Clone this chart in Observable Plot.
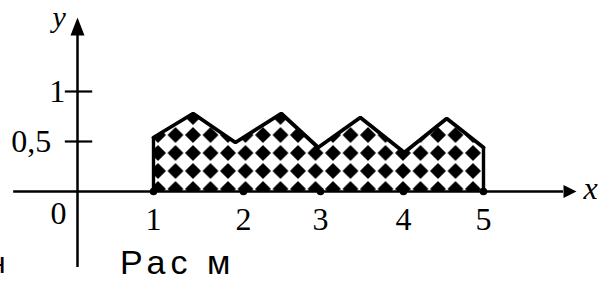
<!DOCTYPE html>
<html><head><meta charset="utf-8">
<script src="https://cdn.jsdelivr.net/npm/d3@7"></script>
<script src="https://cdn.jsdelivr.net/npm/@observablehq/plot@0.6"></script>
<style>body{margin:0;background:#fff} svg{display:block}</style>
</head><body><div id="chart"></div>
<script>
// ---- data ----
const xTicks = [1, 2, 3, 4, 5];
const xTickLabels = ["1", "2", "3", "4", "5"];
const yTicks = [1, 0.5];
const yTickLabels = ["1", "0,5"];
const boundaryX = [1, 1.44, 1.91, 2.49, 2.97, 3.48, 4.01, 4.54, 5];
const boundaryY = [0.54, 0.78, 0.49, 0.78, 0.44, 0.74, 0.39, 0.73, 0.44];
const xAxisExtent = [-0.84, 6.0];
const yAxisExtent = [-0.76, 1.56];
const originLabel = "0";
const xName = "x";
const yName = "y";
const caption = "Рас м";
const cutLetter = "н";

// ---- derived tables ----
const boundary = boundaryX.map((x, i) => ({x, y: boundaryY[i]}));
const edges = [boundary[0], boundary[boundary.length - 1]];
const ticksX = xTicks.map((x, i) => ({x, label: xTickLabels[i]}));
const ticksY = yTicks.map((y, i) => ({y, label: yTickLabels[i]}));

const serif = "'Liberation Serif', 'Times New Roman', serif";
const sans = "'Liberation Sans', Arial, sans-serif";

function arrowSymbol(len, half) {
  return {draw(ctx) { ctx.moveTo(0, -len); ctx.lineTo(half, 0); ctx.lineTo(-half, 0); ctx.closePath(); }};
}

const chart = Plot.plot({
  width: 600, height: 281, margin: 0,
  x: {type: "linear", domain: [0, 1, 2, 3, 4, 5], range: [77, 153, 243, 320, 403, 483], axis: null},
  y: {domain: [0, 1], range: [191, 91], axis: null},
  style: {background: "white"},
  marks: [
    Plot.areaY(boundary, {x: "x", y: "y", y1: 0, fill: "url(#checker)"}),
    Plot.line(boundary, {x: "x", y: "y", stroke: "black", strokeWidth: 3.8, strokeLinejoin: "miter"}),
    Plot.ruleX(edges, {x: "x", y1: 0, y2: "y", stroke: "black", strokeWidth: 3.4}),
    Plot.ruleY([0], {x1: xAxisExtent[0], x2: xAxisExtent[1], stroke: "black", strokeWidth: 2.5}),
    Plot.ruleX([0], {y1: yAxisExtent[0], y2: yAxisExtent[1], stroke: "black", strokeWidth: 2.5}),
    Plot.dot([{x: xAxisExtent[1], y: 0}], {x: "x", y: "y", symbol: arrowSymbol(13, 6.5), r: 5, fill: "black", stroke: "none", rotate: 90}),
    Plot.dot([{x: 0, y: yAxisExtent[1]}], {x: "x", y: "y", symbol: arrowSymbol(18, 7), r: 5, fill: "black", stroke: "none"}),
    Plot.dot(ticksX, {x: "x", y: 0, r: 3.8, fill: "black", stroke: "none"}),
    Plot.ruleY(ticksY, {y: "y", x1: -0.16, x2: 0.2, stroke: "black", strokeWidth: 2.2}),
    Plot.text(ticksX, {x: "x", y: -0.28, text: "label", fontSize: 32, fontFamily: serif, lineAnchor: "middle", textAnchor: "middle", fill: "black"}),
    Plot.text(ticksY, {filter: d => d.y === 1, y: "y", x: -0.16, text: "label", fontSize: 32, fontFamily: serif, lineAnchor: "middle", textAnchor: "end", fill: "black"}),
    Plot.text(ticksY, {filter: d => d.y !== 1, y: "y", x: -0.16, dx: -14, text: "label", fontSize: 32, fontFamily: serif, lineAnchor: "middle", textAnchor: "end", fill: "black"}),
    Plot.text([originLabel], {x: -0.25, y: -0.22, text: d => d, fontSize: 32, fontFamily: serif, lineAnchor: "middle", textAnchor: "middle", fill: "black"}),
    Plot.text([yName], {x: -0.24, y: 1.74, text: d => d, fontSize: 30, fontFamily: serif, fontStyle: "italic", lineAnchor: "middle", textAnchor: "middle", fill: "black"}),
    Plot.text([xName], {x: 6.34, y: 0.032, text: d => d, fontSize: 32, fontFamily: serif, fontStyle: "italic", lineAnchor: "middle", textAnchor: "middle", fill: "black"}),
    Plot.text([caption], {x: 0.56, y: -0.716, text: d => d, fontSize: 34, fontFamily: sans, lineAnchor: "middle", textAnchor: "start", fill: "black"}),
    Plot.text([cutLetter], {x: -0.947, y: -0.72, text: d => d, fontSize: 30, fontFamily: sans, lineAnchor: "middle", textAnchor: "end", fill: "black"})
  ]
});

// widen the caption's letter spacing as in the reference
chart.querySelectorAll("text").forEach(t => {
  if (t.textContent === caption) t.setAttribute("letter-spacing", "5");
});

// checker (diamond) pattern used by the area fill
const ns = "http://www.w3.org/2000/svg";
const defs = document.createElementNS(ns, "defs");
const pat = document.createElementNS(ns, "pattern");
pat.setAttribute("id", "checker");
pat.setAttribute("patternUnits", "userSpaceOnUse");
pat.setAttribute("width", "17.5");
pat.setAttribute("height", "18");
pat.setAttribute("x", "149.25");
pat.setAttribute("y", "180");
const bg = document.createElementNS(ns, "rect");
bg.setAttribute("width", "17.5"); bg.setAttribute("height", "18"); bg.setAttribute("fill", "white");
const dm = document.createElementNS(ns, "polygon");
dm.setAttribute("points", "8.75,1.8 15.8,9 8.75,16.2 1.7,9");
dm.setAttribute("fill", "black");
dm.setAttribute("stroke", "black");
dm.setAttribute("stroke-width", "1.2");
dm.setAttribute("stroke-linejoin", "round");
pat.appendChild(bg); pat.appendChild(dm); defs.appendChild(pat);
chart.insertBefore(defs, chart.firstChild);

document.getElementById("chart").appendChild(chart);
</script>
</body></html>
